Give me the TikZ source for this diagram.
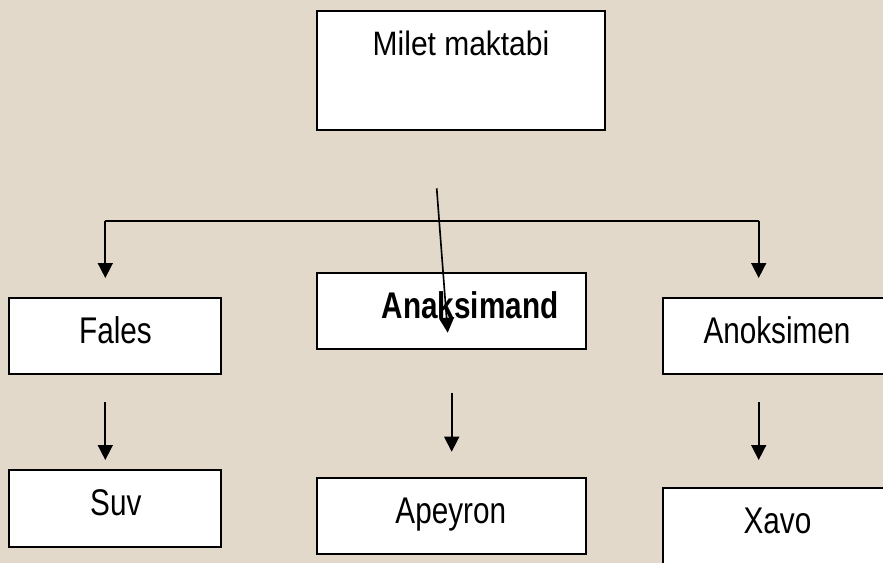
\documentclass[tikz,border=0pt]{standalone}
\usepackage{fontspec}
\usetikzlibrary{arrows.meta}
\newfontfamily\nfont[FakeStretch=0.80]{Liberation Sans}
\newfontfamily\wfont[FakeStretch=0.885]{Liberation Sans}
\definecolor{bg}{RGB}{226,217,202}
\tikzset{
  box/.style={draw=black, fill=white, line width=1.6pt, inner sep=0pt, outer sep=0pt},
  txt/.style={inner sep=0pt, anchor=base, font=\nfont\fontsize{31.7}{38}\selectfont},
  ttl/.style={inner sep=0pt, anchor=base, font=\wfont\fontsize{28.9}{35}\selectfont},
  conn/.style={line width=1.4pt, draw=black},
  arr/.style={conn, -{Triangle[length=12.8pt,width=12.8pt]}}
}
\begin{document}
\begin{tikzpicture}[x=0.03cm, y=-0.03cm]
\useasboundingbox (0,0) rectangle (883,563);
\fill[bg] (0,0) rectangle (883,563);
\begin{scope}
\clip (0,0) rectangle (883,563);
% boxes
\node[box, minimum width=8.658cm, minimum height=3.57cm] (milet) at (461,70.5) {};
\node[box, minimum width=6.351cm, minimum height=2.298cm] (fales) at (115.15,336) {};
\node[box, minimum width=8.079cm, minimum height=2.298cm] (anaks) at (451.35,311) {};
\node[box, minimum width=6.879cm, minimum height=2.289cm] (anok) at (777.35,336.15) {};
\node[box, minimum width=6.351cm, minimum height=2.301cm] (suv) at (115.15,508.35) {};
\node[box, minimum width=8.079cm, minimum height=2.298cm] (apey) at (451.35,516) {};
\node[box, minimum width=6.879cm, minimum height=2.601cm] (xavo) at (777.35,531.65) {};
% texts
\node[ttl] (tmilet) at (461,56) {Milet maktabi};
\node[txt] (tfales) at (115.5,343) {Fales};
\node[txt] (tanaks) at (470,318.3) {\bfseries Anaksimand};
\node[txt] (tanok) at (777,343.3) {Anoksimen};
\node[txt] (tsuv) at (115.8,515) {Suv};
\node[txt] (tapey) at (450.8,523.3) {Apeyron};
\node[txt] (txavo) at (777.5,533.3) {Xavo};
% connector points
\coordinate (busL) at (105.3,221);
\coordinate (busR) at (758.7,221);
\coordinate (tipL) at (105.3,278);
\coordinate (tipR) at (758.7,278);
\coordinate (dS) at (436.7,188.3);
\coordinate (dE) at (447.7,332.7);
\coordinate (s1) at (105.3,402.3);
\coordinate (e1) at (105.3,460);
\coordinate (s2) at (451.7,393.3);
\coordinate (e2) at (451.7,451.7);
\coordinate (s3) at (758.7,402.3);
\coordinate (e3) at (758.7,460);
% connectors
\draw[conn] (busL) -- (busR);
\draw[arr] (busL) -- (tipL);
\draw[arr] (busR) -- (tipR);
\draw[arr] (dS) -- (dE);
\draw[arr] (s1) -- (e1);
\draw[arr] (s2) -- (e2);
\draw[arr] (s3) -- (e3);
\end{scope}
\end{tikzpicture}
\end{document}
